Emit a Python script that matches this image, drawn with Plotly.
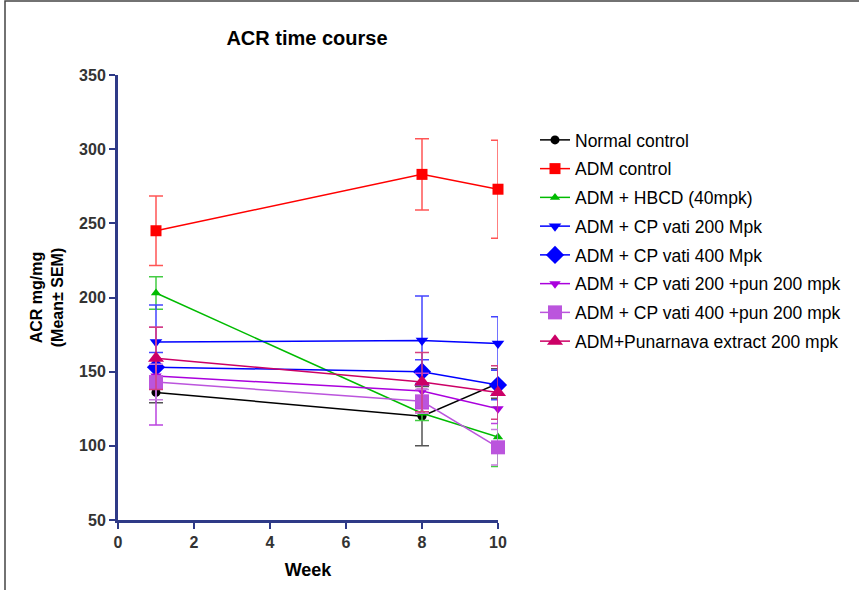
import plotly.graph_objects as go

weeks = [1, 8, 10]
series_names = [
    "Normal control",
    "ADM control",
    "ADM + HBCD (40mpk)",
    "ADM + CP vati 200 Mpk",
    "ADM + CP vati 400 Mpk",
    "ADM + CP vati 200 +pun 200 mpk",
    "ADM + CP vati 400 +pun 200 mpk",
    "ADM+Punarnava extract 200 mpk",
]
normal_control = [136, 120, 142]
normal_control_sem = [7, 20, 10]
adm_control = [245, 283, 273]
adm_control_sem = [23.5, 24, 33]
adm_hbcd = [203, 122, 106]
adm_hbcd_sem = [11, 5, 20]
cp200 = [170, 171, 169]
cp200_sem = [25, 30, 18]
cp400 = [153, 150, 141]
cp400_sem = [10, 8, 10]
cp200_pun = [147, 137, 125]
cp200_pun_sem = [33, 12, 10]
cp400_pun = [143, 130, 99]
cp400_pun_sem = [12, 8, 12]
punarnava = [159, 143, 136]
punarnava_sem = [21, 20, 18]

values = [normal_control, adm_control, adm_hbcd, cp200, cp400, cp200_pun, cp400_pun, punarnava]
sems = [normal_control_sem, adm_control_sem, adm_hbcd_sem, cp200_sem, cp400_sem,
        cp200_pun_sem, cp400_pun_sem, punarnava_sem]
colors = ["#000000", "#ff0000", "#00bb00", "#0000ff", "#0000ff", "#aa00dd", "#bb55dd", "#cc0066"]
err_colors = ["#555555", "#ff5555", "#44cc44", "#4444ff", "#4444ff", "#bb44e0", "#c77ee0", "#d6407f"]
symbols = ["circle", "square", "triangle-up", "triangle-down", "diamond",
           "triangle-down", "square", "triangle-up"]
sizes = [9, 11, 9, 11, 14, 10, 14, 14]

fig = go.Figure()
for name, v, s, c, ec, sym, sz in zip(series_names, values, sems, colors, err_colors, symbols, sizes):
    fig.add_trace(go.Scatter(
        x=weeks, y=v, name=name, mode="lines+markers",
        line=dict(color=c, width=1.5),
        marker=dict(symbol=sym, size=sz, color=c, line=dict(width=0)),
        error_y=dict(type="data", array=s, visible=True, color=ec, thickness=1.5, width=7),
        cliponaxis=False, legendgroup=name,
    ))

axis_col = "#2e3a87"
fam = "Liberation Sans, Arial, sans-serif"
tickfont = dict(family=fam, size=16, color="#333333")

fig.update_layout(
    width=859, height=590,
    paper_bgcolor="white", plot_bgcolor="white",
    margin=dict(l=118, r=361, t=75, b=70, autoexpand=False),
    title=dict(text="<b>ACR time course</b>", x=307 / 859, xanchor="center", y=1 - 38 / 590, yanchor="middle",
               font=dict(family=fam, size=20, color="black")),
    xaxis=dict(range=[0, 10], tickvals=[0, 2, 4, 6, 8, 10], ticktext=["<b>%d</b>" % t for t in [0, 2, 4, 6, 8, 10]],
               showgrid=False, zeroline=False, showline=True, linecolor=axis_col, linewidth=3,
               ticks="outside", ticklen=6, tickwidth=2, tickcolor=axis_col, tickfont=tickfont,
               automargin=False,
               title=dict(text="<b>Week</b>", font=dict(family=fam, size=18, color="black"), standoff=14)),
    yaxis=dict(range=[50, 350], tickvals=[50, 100, 150, 200, 250, 300, 350],
               ticktext=["<b>%d</b>" % t for t in [50, 100, 150, 200, 250, 300, 350]],
               showgrid=False, zeroline=False, showline=True, linecolor=axis_col, linewidth=3,
               ticks="outside", ticklen=6, tickwidth=2, tickcolor=axis_col, tickfont=tickfont,
               automargin=False,
               title=dict(text="<b>ACR mg/mg<br>(Mean± SEM)</b>", font=dict(family=fam, size=16, color="black"), standoff=12)),
    legend=dict(x=(535 - 118) / 380, xanchor="left", y=(520 - 122) / 445, yanchor="top",
                font=dict(family=fam, size=17.5, color="black"),
                tracegroupgap=3, bgcolor="rgba(0,0,0,0)"),
    showlegend=True,
)

fig.add_shape(type="rect", xref="paper", yref="paper",
              x0=(5 - 118) / 380, x1=(880 - 118) / 380, y0=(520 - 620) / 445, y1=(520 - 1) / 445,
              line=dict(color="#444444", width=1.5), fillcolor="rgba(0,0,0,0)", layer="below")

fig.write_html("out.html", config={"displayModeBar": False},
               post_script="document.body.style.margin='0';document.body.style.overflow='hidden';")
